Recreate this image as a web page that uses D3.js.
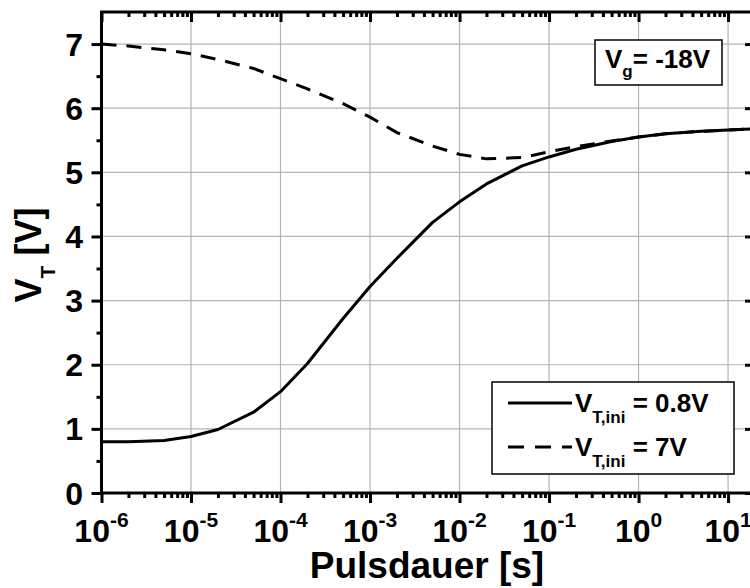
<!DOCTYPE html>
<html><head><meta charset="utf-8">
<script src="https://cdn.jsdelivr.net/npm/d3@7"></script>
<style>body{margin:0;background:#fff;} svg{display:block;} text{font-family:"Liberation Sans",Arial,sans-serif;font-weight:bold;fill:#000;}</style>
</head><body><svg id="c" width="750" height="588"></svg>
<script>
const pulseTimes = [1e-6,2e-6,5e-6,1e-5,2e-5,5e-5,1e-4,2e-4,5e-4,1e-3,2e-3,5e-3,1e-2,2e-2,5e-2,1e-1,2e-1,5e-1,1,2,5,10,20];
const vtIni08 = [0.80,0.80,0.82,0.88,0.99,1.26,1.58,2.02,2.72,3.22,3.66,4.22,4.54,4.82,5.10,5.24,5.36,5.48,5.55,5.60,5.64,5.66,5.68];
const vtIni7 = [7.00,6.97,6.91,6.85,6.76,6.62,6.46,6.30,6.07,5.86,5.62,5.41,5.28,5.21,5.23,5.32,5.40,5.49,5.55,5.60,5.64,5.66,5.68];
const xTickExps = [-6,-5,-4,-3,-2,-1,0,1];
const yTicks = [0,1,2,3,4,5,6,7];
const seriesLabels = ["= 0.8V","= 7V"];

const svg = d3.select("#c");
const L = 101.5, R = 755, T = 12, B = 493;
const x = d3.scaleLog().domain([1e-6, 20]).range([L, R]);
const y = d3.scaleLinear().domain([0, 7.5]).range([B, T]);

// grid
const grid = svg.append("g").attr("stroke","#b4b4b4").attr("stroke-width",1.2);
xTickExps.slice(1).forEach(e => grid.append("line").attr("x1",x(Math.pow(10,e))).attr("x2",x(Math.pow(10,e))).attr("y1",T).attr("y2",B));
yTicks.slice(1).forEach(v => grid.append("line").attr("x1",L).attr("x2",R).attr("y1",y(v)).attr("y2",y(v)));

// curves
const line = d3.line().x((d,i)=>x(pulseTimes[i])).y(d=>y(d));
svg.append("path").datum(vtIni08).attr("d",line).attr("fill","none").attr("stroke","#000").attr("stroke-width",3).attr("stroke-linejoin","round");
svg.append("path").datum(vtIni7).attr("d",line).attr("fill","none").attr("stroke","#000").attr("stroke-width",3).attr("stroke-dasharray","15,10");

// axes
const minorX = [];
for (let e=-6;e<=1;e++) for (let k=2;k<=9;k++){const v=k*Math.pow(10,e); if(v<=20) minorX.push(v);}
const majorX = xTickExps.map(e=>Math.pow(10,e));
const yMinor = d3.range(0.5,7.5,1);

const axBottom = d3.axisBottom(x).tickValues(majorX).tickSize(10).tickFormat("");
const axBottomMinor = d3.axisBottom(x).tickValues(minorX).tickSize(5).tickFormat("");
const axTop = d3.axisBottom(x).tickValues(majorX).tickSize(10).tickFormat("");
const axTopMinor = d3.axisBottom(x).tickValues(minorX).tickSize(5).tickFormat("");
const axLeft = d3.axisLeft(y).tickValues(yTicks).tickSize(10).tickFormat("");
const axLeftMinor = d3.axisLeft(y).tickValues(yMinor).tickSize(5).tickFormat("");
const axRight = d3.axisLeft(y).tickValues(yTicks).tickSize(10).tickFormat("");
const axRightMinor = d3.axisLeft(y).tickValues(yMinor).tickSize(5).tickFormat("");

function styleAx(g){ g.selectAll(".domain").remove(); g.selectAll("line").attr("stroke","#000").attr("stroke-width",3); }
svg.append("g").attr("transform",`translate(0,${B})`).call(axBottom).call(styleAx);
svg.append("g").attr("transform",`translate(0,${B})`).call(axBottomMinor).call(styleAx);
svg.append("g").attr("transform",`translate(0,${T})`).call(axTop).call(styleAx);
svg.append("g").attr("transform",`translate(0,${T})`).call(axTopMinor).call(styleAx);
svg.append("g").attr("transform",`translate(${L},0)`).call(axLeft).call(styleAx);
svg.append("g").attr("transform",`translate(${L},0)`).call(axLeftMinor).call(styleAx);
svg.append("g").attr("transform",`translate(${R},0)`).call(axRight).call(styleAx);
svg.append("g").attr("transform",`translate(${R},0)`).call(axRightMinor).call(styleAx);
svg.append("rect").attr("x",L).attr("y",T).attr("width",R-L).attr("height",B-T).attr("fill","none").attr("stroke","#000").attr("stroke-width",3);

// tick labels
yTicks.forEach(v => svg.append("text").attr("x",83).attr("y",y(v)).attr("dy","0.36em").attr("text-anchor","end").attr("font-size",32).text(v));
xTickExps.forEach(e => {
  const t = svg.append("text").attr("x",x(Math.pow(10,e))).attr("y",542).attr("text-anchor","middle").attr("font-size",32);
  t.append("tspan").text("10");
  t.append("tspan").attr("dy",-15).attr("font-size",21).text(String(e));
});

// axis titles
svg.append("text").attr("x",427).attr("y",578).attr("text-anchor","middle").attr("font-size",37).text("Pulsdauer [s]");
const yt = svg.append("text").attr("transform","translate(41,255) rotate(-90)").attr("text-anchor","middle").attr("font-size",36);
yt.append("tspan").text("V");
yt.append("tspan").attr("dy",14).attr("font-size",21).text("T");
yt.append("tspan").attr("dy",-14).text(" [V]");

// Vg box
svg.append("rect").attr("x",595).attr("y",40).attr("width",127).attr("height",45).attr("fill","#fff").attr("stroke","#000").attr("stroke-width",1.5);
const vg = svg.append("text").attr("x",605).attr("y",68).attr("font-size",26);
vg.append("tspan").text("V");
vg.append("tspan").attr("dy",9).attr("font-size",17).text("g");
vg.append("tspan").attr("dy",-9).text("= -18V");

// legend
svg.append("rect").attr("x",492).attr("y",382).attr("width",242).attr("height",92).attr("fill","#fff").attr("stroke","#000").attr("stroke-width",1.5);
const legRows = [{y:403, dash:null},{y:447, dash:"16,11"}];
legRows.forEach((r,i) => {
  const ln = svg.append("line").attr("x1",508).attr("x2",572).attr("y1",r.y).attr("y2",r.y).attr("stroke","#000").attr("stroke-width",3);
  if (r.dash) ln.attr("stroke-dasharray",r.dash);
  const t = svg.append("text").attr("x",575).attr("y",r.y+9).attr("font-size",26);
  t.append("tspan").text("V");
  t.append("tspan").attr("dy",11).attr("font-size",17).text("T,ini");
  t.append("tspan").attr("dy",-11).text(" " + seriesLabels[i]);
});
</script></body></html>
